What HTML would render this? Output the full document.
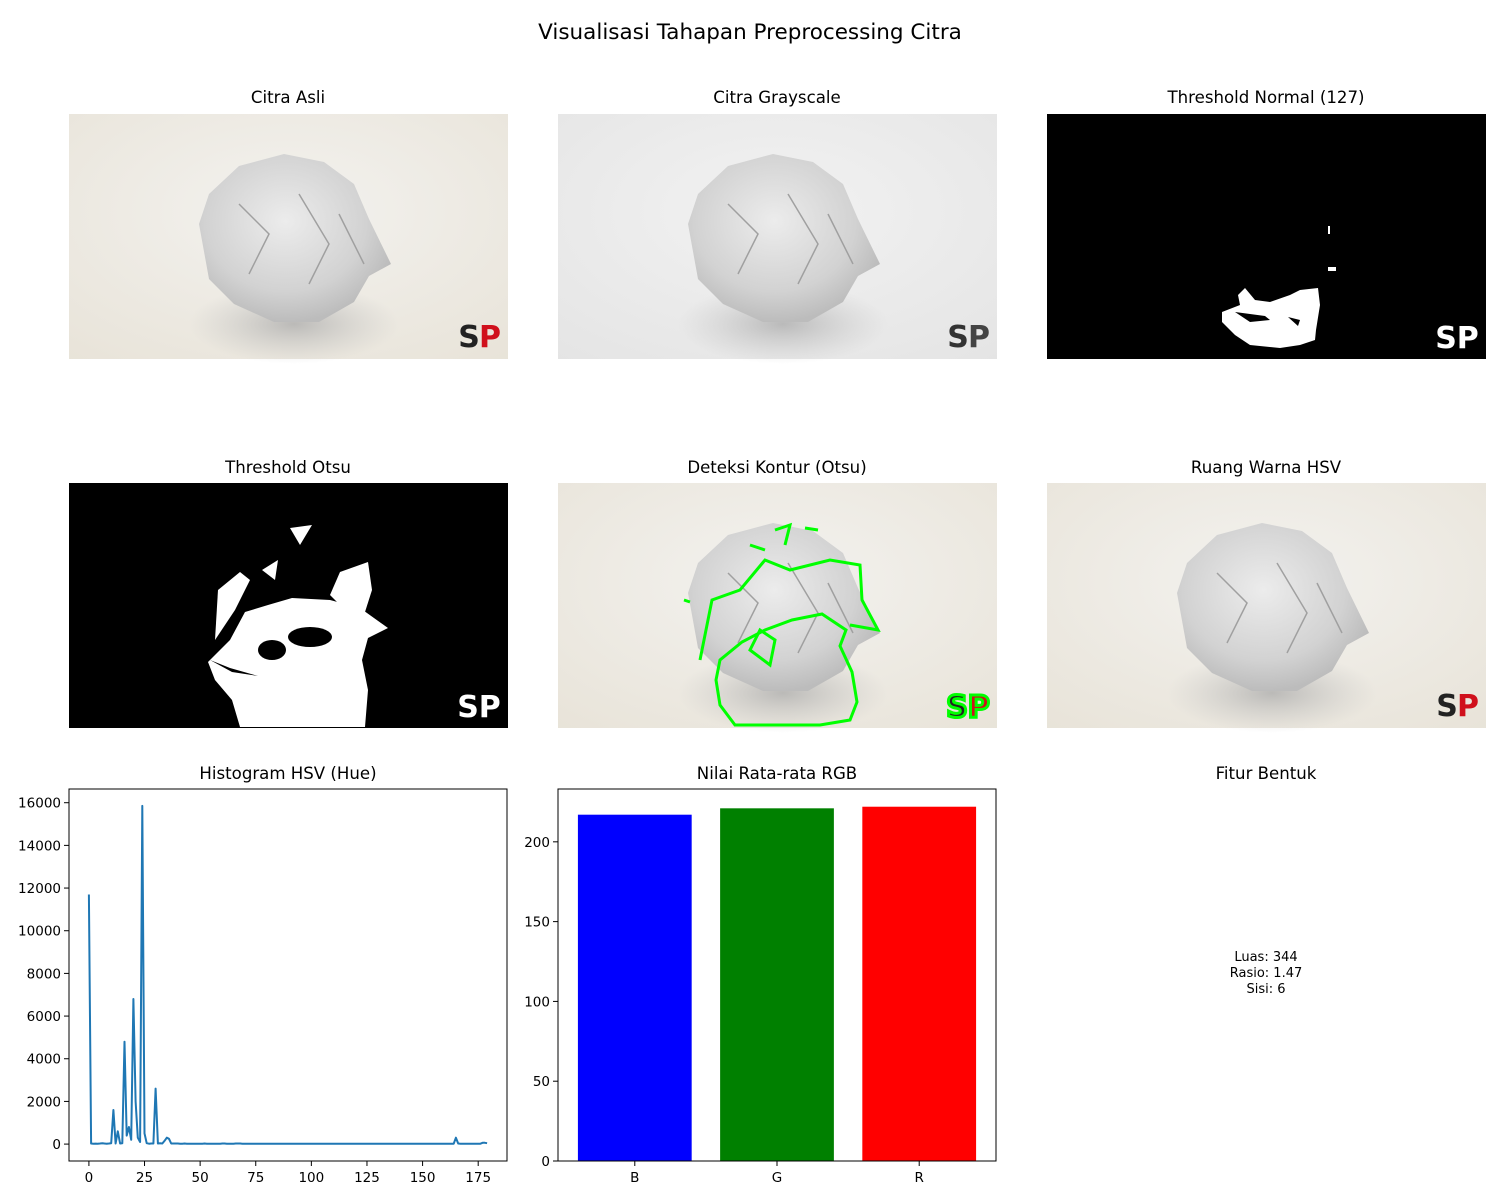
<!DOCTYPE html>
<html><head><meta charset="utf-8">
<style>
body{margin:0;background:#fff;}
#root{position:relative;width:1500px;height:1200px;overflow:hidden;font-family:"DejaVu Sans","Liberation Sans",sans-serif;}
.t{position:absolute;font-size:16.6px;color:#000;white-space:nowrap;transform:translateX(-50%);}
svg{position:absolute;left:0;top:0;}
</style></head><body>
<div id="root">
<div class="t" style="left:750px;top:20px;font-size:21.5px">Visualisasi Tahapan Preprocessing Citra</div>
<div class="t" style="left:288px;top:88px">Citra Asli</div>
<div class="t" style="left:777px;top:88px">Citra Grayscale</div>
<div class="t" style="left:1266px;top:88px">Threshold Normal (127)</div>
<div class="t" style="left:288px;top:458px">Threshold Otsu</div>
<div class="t" style="left:777px;top:458px">Deteksi Kontur (Otsu)</div>
<div class="t" style="left:1266px;top:458px">Ruang Warna HSV</div>
<div class="t" style="left:288px;top:764px">Histogram HSV (Hue)</div>
<div class="t" style="left:777px;top:764px">Nilai Rata-rata RGB</div>
<div class="t" style="left:1266px;top:764px">Fitur Bentuk</div>
<div style="position:absolute;left:1266px;top:950px;transform:translateX(-50%);font-size:13px;text-align:center;line-height:16px">Luas: 344<br>Rasio: 1.47<br>Sisi: 6</div>

<svg width="1500" height="1200" id="svg">
<defs>
<radialGradient id="bg" cx="0.5" cy="0.4" r="0.8"><stop offset="0" stop-color="#f3f2ef"/><stop offset="1" stop-color="#e8e3d8"/></radialGradient>
<radialGradient id="bgg" cx="0.5" cy="0.4" r="0.8"><stop offset="0" stop-color="#f2f2f2"/><stop offset="1" stop-color="#e4e4e4"/></radialGradient>
<radialGradient id="ball" cx="0.45" cy="0.4" r="0.6"><stop offset="0" stop-color="#ececec"/><stop offset="0.7" stop-color="#d2d2d2"/><stop offset="1" stop-color="#bcbcbc"/></radialGradient>
<radialGradient id="shadow" cx="0.5" cy="0.5" r="0.5"><stop offset="0" stop-color="#a5a5a5" stop-opacity="0.7"/><stop offset="1" stop-color="#bbb" stop-opacity="0"/></radialGradient>
</defs>
</svg>
</div>
<script>
const histHue = [
11700,30,20,25,20,30,40,30,20,30,
40,1600,30,600,30,40,4800,400,800,200,
6800,2000,300,100,15850,500,40,20,30,30,
2600,30,40,30,150,300,250,30,30,30,
30,20,20,30,20,20,20,20,20,20,
20,20,30,20,20,20,20,20,20,20,
30,30,20,20,20,20,30,30,30,20,
20,20,20,20,20,20,20,20,20,20,
20,20,20,20,20,20,20,20,20,20,
20,20,20,20,20,20,20,20,20,20,
20,20,20,20,20,20,20,20,20,20,
20,20,20,20,20,20,20,20,20,20,
20,20,20,20,20,20,20,20,20,20,
20,20,20,20,20,20,20,20,20,20,
20,20,20,20,20,20,20,20,20,20,
20,20,20,20,20,20,20,20,20,20,
20,20,20,20,20,300,30,20,20,20,
20,20,20,20,20,20,20,60,60,40];
const histXTicks = [0,25,50,75,100,125,150,175];
const histYTicks = [0,2000,4000,6000,8000,10000,12000,14000,16000];
const rgbLabels = ['B','G','R'];
const rgbValues = [217,221,222];
const rgbColors = ['#0000ff','#008000','#ff0000'];
const rgbYTicks = [0,50,100,150,200];

const NS='http://www.w3.org/2000/svg';
const svg=document.getElementById('svg');
function el(tag,attrs,parent){const e=document.createElementNS(NS,tag);for(const k in attrs)e.setAttribute(k,attrs[k]);(parent||svg).appendChild(e);return e;}
function txt(x,y,s,anchor,size,parent){const e=el('text',{x:x,y:y,'text-anchor':anchor,'font-size':size||13,'font-family':'DejaVu Sans, Liberation Sans, sans-serif'},parent);e.textContent=s;return e;}

function photo(x,y,kind){
  const g=el('g',{});
  
  
  const w=439,h=245;
  if(kind==='threshold-normal'||kind==='threshold-otsu'){
    el('rect',{x:x,y:y,width:w,height:h,fill:'#000'},g);
    return g;
  }
  el('rect',{x:x,y:y,width:w,height:h,fill:kind==='grayscale'?'url(#bgg)':'url(#bg)'},g);
  el('ellipse',{cx:x+225,cy:y+210,rx:105,ry:40,fill:'url(#shadow)'},g);
  el('path',{d:`M${x+130},${y+110} L${x+140},${y+80} L${x+170},${y+52} L${x+215},${y+40} L${x+255},${y+48} L${x+285},${y+70} L${x+300},${y+105} L${x+322},${y+150} L${x+300},${y+162} L${x+285},${y+188} L${x+250},${y+208} L${x+205},${y+208} L${x+165},${y+190} L${x+140},${y+165} Z`,fill:'url(#ball)'},g);
  el('path',{d:`M${x+170},${y+90} L${x+200},${y+120} L${x+180},${y+160} M${x+230},${y+80} L${x+260},${y+130} L${x+240},${y+170} M${x+270},${y+100} L${x+295},${y+150}`,stroke:'#a0a0a0','stroke-width':1.5,fill:'none'},g);
  const sc=kind==='grayscale'?'#333':'#222', pc=kind==='grayscale'?'#444':'#d0101c';
  const t1=txt(x+400,y+233,'S','middle',30,g);t1.setAttribute('font-weight','bold');t1.setAttribute('fill',sc);
  const t2=txt(x+421,y+233,'P','middle',30,g);t2.setAttribute('font-weight','bold');t2.setAttribute('fill',pc);
  return g;
}
photo(69,114,'citra-asli');
photo(558,114,'grayscale');
photo(1047,114,'threshold-normal');
photo(69,483,'threshold-otsu');
photo(558,483,'kontur');
photo(1047,483,'hsv');

const tn=el('g',{fill:'#fff'});


el('path',{d:'M1222,312 L1240,305 L1238,295 L1245,288 L1255,300 L1270,302 L1290,295 L1300,290 L1318,288 L1320,305 L1316,330 L1315,340 L1300,345 L1280,348 L1250,345 L1235,335 L1222,322 Z'},tn);
el('path',{d:'M1235,312 L1265,316 L1270,320 L1250,322 Z',fill:'#000'},tn);
el('path',{d:'M1288,317 L1300,320 L1298,326 Z',fill:'#000'},tn);
el('rect',{x:1328,y:226,width:2,height:8},tn);
el('rect',{x:1328,y:267,width:8,height:4},tn);
const tnS=txt(1457,348,'SP','middle',30,tn);tnS.setAttribute('font-weight','bold');

const to=el('g',{fill:'#fff'});


el('path',{d:'M208,662 L230,640 L245,612 L268,605 L292,598 L330,600 L360,608 L388,628 L368,638 L362,660 L368,690 L365,727 L240,727 L232,700 L215,680 Z'},to);
el('path',{d:'M340,572 L368,562 L372,590 L365,612 L345,610 L330,595 Z'},to);
el('path',{d:'M218,590 L240,572 L250,580 L235,610 L215,640 Z'},to);
el('path',{d:'M262,570 L278,560 L275,580 Z'},to);
el('path',{d:'M290,528 L312,525 L300,545 Z'},to);
el('ellipse',{cx:272,cy:650,rx:14,ry:10,fill:'#000'},to);
el('ellipse',{cx:310,cy:637,rx:22,ry:10,fill:'#000'},to);
el('path',{d:'M210,660 L230,668 L258,676 L232,672 Z',fill:'#000'},to);
const toS=txt(479,717,'SP','middle',30,to);toS.setAttribute('font-weight','bold');

const ct=el('g',{fill:'none',stroke:'#00ff00','stroke-width':3});


el('path',{d:'M716,680 L720,660 L742,642 L765,630 L792,620 L822,614 L846,630 L840,646 L852,672 L857,702 L850,720 L820,725 L735,725 L720,705 Z'},ct);
el('path',{d:'M700,660 L712,600 L740,590 L765,560 L790,570 L830,560 L860,565 L862,600 L878,630 L850,625'},ct);
el('path',{d:'M750,650 L760,630 L775,640 L770,665 Z'},ct);
el('path',{d:'M775,530 L790,525 L785,545 M805,528 L818,530 M684,600 L690,602 M750,545 L765,550'},ct);
const ctS=txt(968,717,'SP','middle',30,ct);ctS.setAttribute('font-weight','bold');ctS.setAttribute('fill','none');

const hx0=69,hx1=507,hy0=789,hy1=1161;
const hxMin=-8.95,hxMax=187.95,hyMin=-792.5,hyMax=16642.5;
function hX(v){return hx0+(v-hxMin)/(hxMax-hxMin)*(hx1-hx0);}
function hY(v){return hy1-(v-hyMin)/(hyMax-hyMin)*(hy1-hy0);}
const hist=el('g',{});


let d='';
histHue.forEach((v,i)=>{d+=(i?'L':'M')+hX(i).toFixed(1)+','+hY(v).toFixed(1);});
const line=el('path',{d:d,fill:'none',stroke:'#1f77b4','stroke-width':2,'stroke-linejoin':'round'},hist);


el('rect',{x:hx0,y:hy0,width:hx1-hx0,height:hy1-hy0,fill:'none',stroke:'#000','stroke-width':1},hist);
histXTicks.forEach(t=>{const x=hX(t);el('line',{x1:x,y1:hy1,x2:x,y2:hy1+5,stroke:'#000'},hist);txt(x,hy1+21,String(t),'middle',13.5,hist);});
histYTicks.forEach(t=>{const y=hY(t);el('line',{x1:hx0-5,y1:y,x2:hx0,y2:y,stroke:'#000'},hist);txt(hx0-8,y+5,String(t),'end',13.5,hist);});

const bx0=558,bx1=996,by0=789,by1=1161;
const bxMin=-0.54,bxMax=2.54,byMax=233.1;
function bX(v){return bx0+(v-bxMin)/(bxMax-bxMin)*(bx1-bx0);}
function bY(v){return by1-v/byMax*(by1-by0);}
const bars=el('g',{});


rgbValues.forEach((v,i)=>{
  const r=el('rect',{x:bX(i-0.4),y:bY(v),width:bX(i+0.4)-bX(i-0.4),height:by1-bY(v),fill:rgbColors[i]},bars);
  
  
  el('line',{x1:bX(i),y1:by1,x2:bX(i),y2:by1+5,stroke:'#000'},bars);
  txt(bX(i),by1+21,rgbLabels[i],'middle',13.5,bars);
});
el('rect',{x:bx0,y:by0,width:bx1-bx0,height:by1-by0,fill:'none',stroke:'#000','stroke-width':1},bars);
rgbYTicks.forEach(t=>{const y=bY(t);el('line',{x1:bx0-5,y1:y,x2:bx0,y2:y,stroke:'#000'},bars);txt(bx0-8,y+5,String(t),'end',13.5,bars);});
</script>
</body></html>
